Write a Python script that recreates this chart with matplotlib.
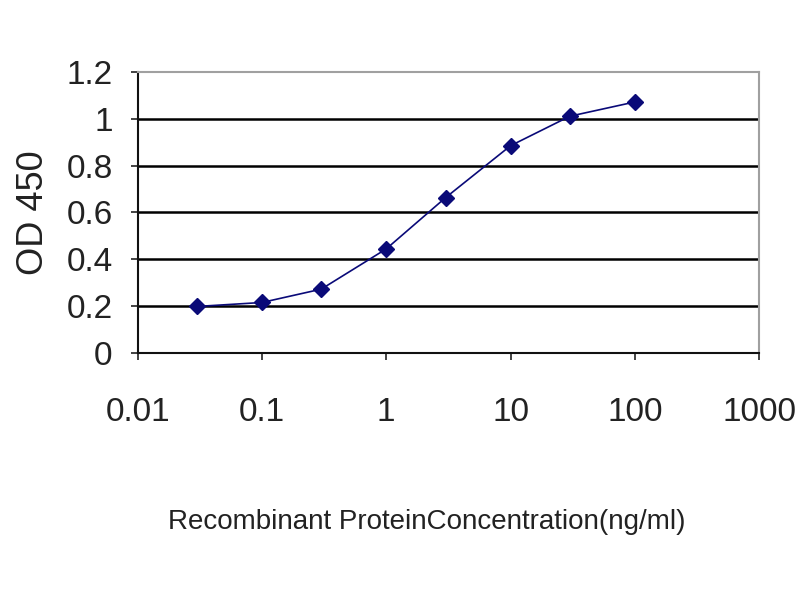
import numpy as np
import matplotlib
matplotlib.use("Agg")
import matplotlib.pyplot as plt

plt.rcParams['font.family'] = ['Liberation Sans', 'DejaVu Sans']

# ------------------------
# Data
# ------------------------
concentration = [0.03, 0.1, 0.3, 1, 3, 10, 30, 100]
od450 = [0.198, 0.215, 0.272, 0.444, 0.663, 0.885, 1.011, 1.072]

x_ticks = [0.01, 0.1, 1, 10, 100, 1000]
x_tick_labels = ["0.01", "0.1", "1", "10", "100", "1000"]
y_ticks = [0, 0.2, 0.4, 0.6, 0.8, 1, 1.2]
y_tick_labels = ["0", "0.2", "0.4", "0.6", "0.8", "1", "1.2"]

navy = "#0a0a78"
text_col = "#222222"

fig = plt.figure(figsize=(8, 6), dpi=100)
ax = fig.add_axes([0.172, 0.412, 0.777, 0.468])

# horizontal gridlines
for y in y_ticks[1:-1]:
    ax.axhline(y, color="black", linewidth=1.8, zorder=1)

ax.plot(concentration, od450, color=navy, linewidth=1.2, marker="D",
        markersize=8.5, markerfacecolor=navy, markeredgecolor=navy, zorder=3)

ax.set_xscale("log")
ax.set_xlim(0.01, 1000)
ax.set_ylim(0, 1.2)
ax.set_xticks(x_ticks)
ax.set_xticklabels(x_tick_labels, fontsize=24, color=text_col)
ax.minorticks_off()
ax.set_yticks(y_ticks)
ax.set_yticklabels(y_tick_labels, fontsize=24, color=text_col)

ax.tick_params(axis="both", direction="out", length=5, width=1.2, colors="#222222")
ax.tick_params(axis="x", pad=27)
ax.tick_params(axis="y", pad=13)

for side in ["left", "bottom"]:
    ax.spines[side].set_color("#111111")
    ax.spines[side].set_linewidth(1.5)
for side in ["top", "right"]:
    ax.spines[side].set_color("#a0a0a0")
    ax.spines[side].set_linewidth(1.5)

ax.set_ylabel("OD 450", fontsize=26, color=text_col)
ax.yaxis.set_label_coords(-0.139, 0.5)
ax.set_xlabel("Recombinant ProteinConcentration(ng/ml)", fontsize=20, color=text_col)
ax.xaxis.set_label_coords(0.465, -0.555)

fig.savefig("out.png", dpi=100, facecolor="white")
